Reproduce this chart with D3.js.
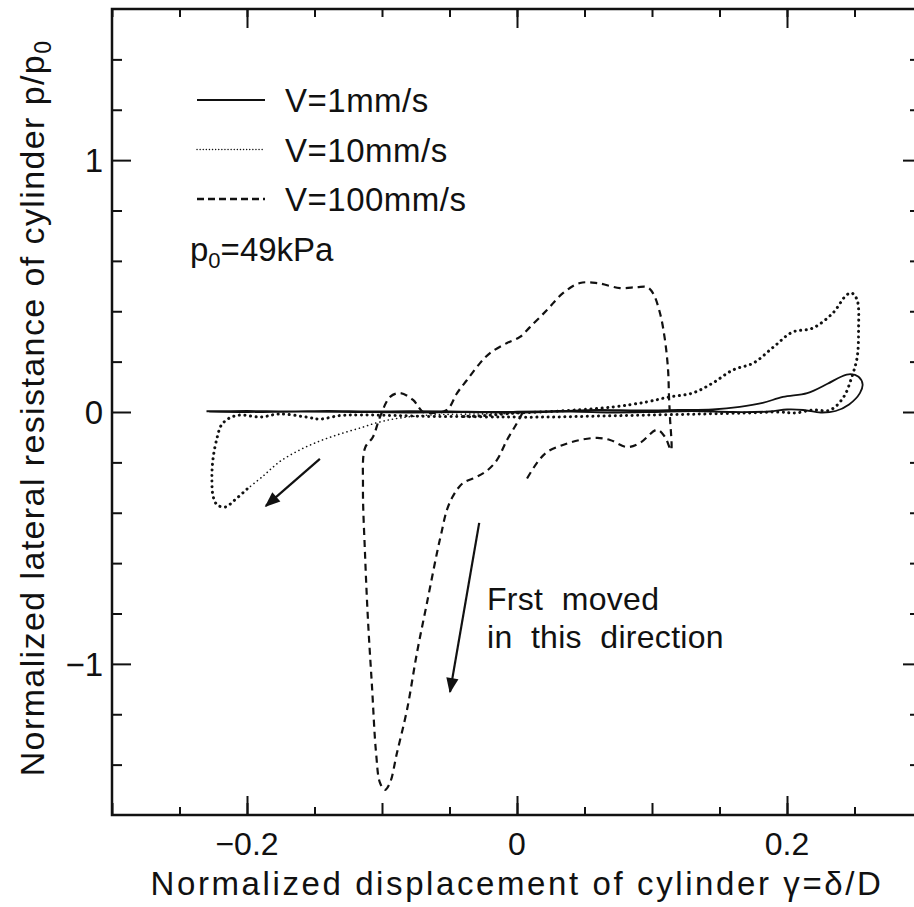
<!DOCTYPE html>
<html>
<head>
<meta charset="utf-8">
<script src="https://cdn.jsdelivr.net/npm/d3@7/dist/d3.min.js"></script>
<style>
  html, body { margin: 0; padding: 0; background: #fff; }
  svg { display: block; }
  text { font-family: "Liberation Sans", Arial, sans-serif; fill: #111; }
</style>
</head>
<body>
<svg id="chart" width="914" height="907"></svg>
<script>
// Tick values for the two axes
const xMajorLabeled = [-0.2, 0, 0.2];
const xMajor = [-0.3, -0.2, -0.1, 0, 0.1, 0.2, 0.3];
const xMinor = [-0.25, -0.15, -0.05, 0.05, 0.15, 0.25];
const yMajor = [-1, 0, 1];
const yMinor = [-1.4, -1.2, -0.8, -0.6, -0.4, -0.2, 0.2, 0.4, 0.6, 0.8, 1.2, 1.4];

// V = 1 mm/s (solid)
const v1 = [
  [-0.230, 0.003], [-0.20, 0.004], [-0.17, 0.002], [-0.14, 0.004], [-0.11, 0.002],
  [-0.08, 0.003], [-0.05, 0.002], [-0.02, 0.000], [0.00, 0.001], [0.03, 0.004],
  [0.06, 0.008], [0.09, 0.006], [0.12, 0.008], [0.145, 0.010], [0.165, 0.020],
  [0.182, 0.036], [0.197, 0.060], [0.215, 0.075], [0.230, 0.112], [0.240, 0.140],
  [0.247, 0.150], [0.253, 0.140], [0.256, 0.110], [0.254, 0.075], [0.246, 0.030],
  [0.236, 0.004], [0.225, -0.002], [0.212, 0.008], [0.200, 0.010], [0.187, 0.002],
  [0.16, 0.000], [0.13, 0.004], [0.10, 0.000], [0.07, -0.002], [0.04, 0.002],
  [0.00, -0.002], [-0.04, 0.000], [-0.08, -0.002], [-0.12, 0.000], [-0.16, 0.002],
  [-0.20, 0.000], [-0.228, 0.002]
];

// V = 10 mm/s (dotted): initial excursion, then the main loop
const v10Start = [
  [0.000, -0.006], [-0.030, -0.008], [-0.064, -0.012], [-0.087, -0.024], [-0.102, -0.040],
  [-0.116, -0.063], [-0.131, -0.087], [-0.146, -0.115], [-0.161, -0.151], [-0.176, -0.198],
  [-0.188, -0.254], [-0.200, -0.306]
];
const v10Loop = [
  [-0.200, -0.306], [-0.209, -0.349], [-0.216, -0.377], [-0.222, -0.369], [-0.225, -0.337],
  [-0.226, -0.258], [-0.225, -0.179], [-0.222, -0.099], [-0.219, -0.052], [-0.213, -0.024],
  [-0.205, -0.012], [-0.190, -0.020], [-0.176, -0.008], [-0.156, -0.020], [-0.146, -0.028],
  [-0.131, -0.014], [-0.116, -0.012], [-0.090, -0.014], [-0.060, -0.018], [-0.030, -0.016],
  [0.000, -0.004], [0.032, 0.004], [0.071, 0.020], [0.096, 0.040], [0.113, 0.060],
  [0.130, 0.075], [0.145, 0.115], [0.160, 0.167], [0.175, 0.194], [0.190, 0.258],
  [0.204, 0.317], [0.219, 0.333], [0.234, 0.393], [0.244, 0.464], [0.248, 0.472],
  [0.252, 0.444], [0.253, 0.325], [0.252, 0.218], [0.248, 0.139], [0.242, 0.060],
  [0.232, 0.008], [0.219, 0.008], [0.206, -0.004], [0.195, 0.000], [0.170, -0.004],
  [0.136, -0.008], [0.099, -0.012], [0.062, -0.016], [0.024, -0.020], [-0.013, -0.020],
  [-0.040, -0.018]
];

// V = 100 mm/s (dashed)
const v100 = [
  [0.004, -0.004], [0.000, -0.044], [-0.0074, -0.111], [-0.0148, -0.190], [-0.022, -0.232],
  [-0.030, -0.258], [-0.040, -0.282], [-0.047, -0.330], [-0.052, -0.390], [-0.056, -0.480],
  [-0.0593, -0.560], [-0.0667, -0.758], [-0.0741, -0.956], [-0.0815, -1.183], [-0.0889, -1.353],
  [-0.0941, -1.472], [-0.0978, -1.500], [-0.1015, -1.472], [-0.1044, -1.353], [-0.1074, -1.091],
  [-0.1104, -0.825], [-0.1126, -0.560], [-0.1141, -0.298], [-0.1126, -0.143], [-0.1067, -0.099],
  [-0.1015, -0.020], [-0.094, 0.060], [-0.0867, 0.075], [-0.077, 0.048], [-0.0696, 0.000],
  [-0.0622, -0.004], [-0.0519, 0.008], [-0.0444, 0.075], [-0.037, 0.127], [-0.0274, 0.194],
  [-0.020, 0.234], [-0.0074, 0.274], [0.0022, 0.298], [0.0096, 0.337], [0.0222, 0.405],
  [0.034, 0.472], [0.0467, 0.512], [0.0593, 0.512], [0.0763, 0.492], [0.0889, 0.496],
  [0.0963, 0.496], [0.1007, 0.472], [0.1059, 0.393], [0.1096, 0.286], [0.1119, 0.167],
  [0.1126, 0.060], [0.1133, -0.020], [0.1141, -0.151], [0.1096, -0.099], [0.1037, -0.071],
  [0.0911, -0.123], [0.0815, -0.139], [0.0689, -0.111], [0.0593, -0.103], [0.0467, -0.111],
  [0.034, -0.131], [0.0222, -0.159], [0.0148, -0.202], [0.0059, -0.278]
];

// Direction arrows: [from, to] in data units
const arrows = [
  [[-0.146, -0.186], [-0.186, -0.373]],
  [[-0.028, -0.440], [-0.0496, -1.111]]
];

const legendItems = ["V=1mm/s", "V=10mm/s", "V=100mm/s"];
const noteLines = ["Frst  moved", "in  this  direction"];

const svg = d3.select("#chart");
const x = d3.scaleLinear().domain([-0.3, 0.3]).range([112, 922]);
const y = d3.scaleLinear().domain([-1.6, 1.6]).range([815, 9]);

const line = d3.line().x(d => x(d[0])).y(d => y(d[1])).curve(d3.curveCatmullRom.alpha(0.5));

// Plot frame
svg.append("rect")
  .attr("x", x(-0.3)).attr("y", y(1.6))
  .attr("width", x(0.3) - x(-0.3)).attr("height", y(-1.6) - y(1.6))
  .attr("fill", "none").attr("stroke", "#111").attr("stroke-width", 2.5);

// Inward ticks
function tickAxis(axisGen, transform, values, size) {
  const g = svg.append("g").attr("transform", transform)
    .call(axisGen.tickValues(values).tickSize(size).tickFormat(""));
  g.select(".domain").remove();
  g.selectAll(".tick line").attr("stroke", "#111").attr("stroke-width", 2);
  return g;
}
const bottomY = y(-1.6), topY = y(1.6), leftX = x(-0.3), rightX = x(0.3);
tickAxis(d3.axisBottom(x), `translate(0,${bottomY})`, xMinor, -8);
tickAxis(d3.axisBottom(x), `translate(0,${bottomY})`, xMajor, -12);
tickAxis(d3.axisBottom(x), `translate(0,${bottomY})`, xMajorLabeled, -19);
tickAxis(d3.axisTop(x), `translate(0,${topY})`, xMinor.concat(xMajor), -8);
tickAxis(d3.axisTop(x), `translate(0,${topY})`, xMajorLabeled, -19);
tickAxis(d3.axisLeft(y), `translate(${leftX},0)`, yMinor, -10);
tickAxis(d3.axisLeft(y), `translate(${leftX},0)`, yMajor, -19);
tickAxis(d3.axisRight(y), `translate(${rightX},0)`, yMinor, -12);
tickAxis(d3.axisRight(y), `translate(${rightX},0)`, yMajor, -19);

// Tick labels
const fmt = d3.format("");
svg.append("g").selectAll("text").data(xMajorLabeled).join("text")
  .attr("x", d => x(d)).attr("y", bottomY + 40)
  .attr("text-anchor", "middle").attr("font-size", 32)
  .text(d => d === 0 ? "0" : fmt(d).replace("-", "\u2212"));
svg.append("g").selectAll("text").data(yMajor).join("text")
  .attr("x", leftX - 9).attr("y", d => y(d) + 12)
  .attr("text-anchor", "end").attr("font-size", 33)
  .text(d => d < 0 ? "\u2212" + Math.abs(d) : String(d));

// Axis titles
svg.append("text")
  .attr("x", x(0)).attr("y", 895)
  .attr("text-anchor", "middle").attr("font-size", 33).attr("letter-spacing", 2.6)
  .text("Normalized displacement of cylinder \u03B3=\u03B4/D");
const yt = svg.append("text")
  .attr("transform", `translate(44,${y(0) - 4}) rotate(-90)`)
  .attr("text-anchor", "middle").attr("font-size", 34).attr("letter-spacing", 1.4);
yt.append("tspan").text("Normalized lateral resistance of cylinder p/p");
yt.append("tspan").attr("font-size", 23).attr("dy", 7).text("0");

// Curves
const curves = svg.append("g").attr("fill", "none").attr("stroke", "#111");
curves.append("path").datum(v1).attr("d", line)
  .attr("stroke-width", 1.8);
curves.append("path").datum(v10Start).attr("d", line)
  .attr("stroke-width", 1.6).attr("stroke-linecap", "round").attr("stroke-dasharray", "0.1 4.2");
curves.append("path").datum(v10Loop).attr("d", line)
  .attr("stroke-width", 3).attr("stroke-linecap", "round").attr("stroke-dasharray", "0.1 5.5");
curves.append("path").datum(v100).attr("d", line)
  .attr("stroke-width", 2.2).attr("stroke-dasharray", "7 5");

// Arrows
const defs = svg.append("defs");
defs.append("marker").attr("id", "head")
  .attr("viewBox", "0 0 10 10").attr("refX", 9).attr("refY", 5)
  .attr("markerWidth", 9).attr("markerHeight", 7).attr("markerUnits", "strokeWidth")
  .attr("orient", "auto")
  .append("path").attr("d", "M0,1 L10,5 L0,9 Z").attr("fill", "#111");
svg.append("g").selectAll("line").data(arrows).join("line")
  .attr("x1", d => x(d[0][0])).attr("y1", d => y(d[0][1]))
  .attr("x2", d => x(d[1][0])).attr("y2", d => y(d[1][1]))
  .attr("stroke", "#111").attr("stroke-width", 2.2)
  .attr("marker-end", "url(#head)");

// Annotation
svg.append("g").selectAll("text").data(noteLines).join("text")
  .attr("x", x(-0.0222)).attr("y", (d, i) => y(-0.786) + i * 38)
  .attr("font-size", 32).attr("letter-spacing", 0.3)
  .style("white-space", "pre")
  .text(d => d);

// Legend
const legend = svg.append("g");
const styles = [
  { w: 1.8, dash: null, cap: "butt" },
  { w: 1.4, dash: "0.1 3", cap: "round" },
  { w: 2.4, dash: "7 4", cap: "butt" }
];
legendItems.forEach((t, i) => {
  const ly = 100 + i * 49.5;
  legend.append("line")
    .attr("x1", 197).attr("x2", 265).attr("y1", ly).attr("y2", ly)
    .attr("stroke", "#111").attr("stroke-width", styles[i].w)
    .attr("stroke-linecap", styles[i].cap)
    .attr("stroke-dasharray", styles[i].dash);
  legend.append("text").attr("x", 285).attr("y", ly + 12)
    .attr("font-size", 33).attr("letter-spacing", 0.5).text(t);
});
const p0 = legend.append("text").attr("x", 190).attr("y", 261).attr("font-size", 33);
p0.append("tspan").text("p");
p0.append("tspan").attr("font-size", 22).attr("dy", 7).text("0");
p0.append("tspan").attr("dy", -7).text("=49kPa");
</script>
</body>
</html>
